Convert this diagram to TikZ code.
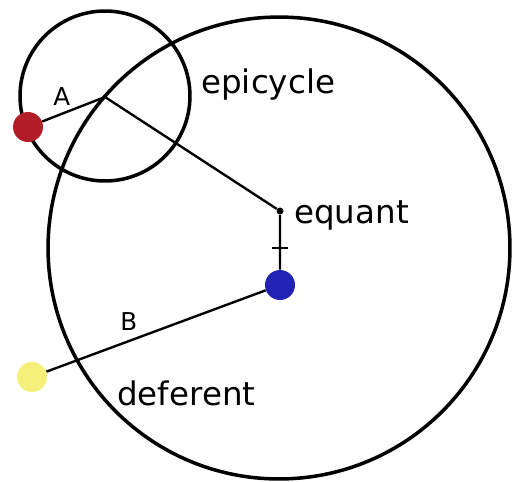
\documentclass[tikz,border=0pt]{standalone}
\usepackage{fontspec}
\setmainfont{DejaVu Sans}
\usetikzlibrary{positioning}
\definecolor{planetred}{HTML}{B21E28}
\definecolor{earthblue}{HTML}{2222B4}
\definecolor{sunyellow}{HTML}{F5F07A}

\begin{document}
\begin{tikzpicture}[x=0.02cm, y=-0.02cm,
    orbit/.style={line width=2pt},
    arm/.style={line width=1.35pt},
    body/.style={circle, inner sep=0pt, minimum size=0.6cm},
    bigtext/.style={anchor=base west, inner sep=0pt, font=\fontsize{18.5}{20}\selectfont},
    smalltext/.style={anchor=base west, inner sep=0pt, font=\fontsize{14}{16}\selectfont}]
    \useasboundingbox (0,0) rectangle (513,481);

    % deferent and epicycle
    \draw[orbit] (279,248) circle (4.62cm);
    \draw[orbit] (105,96) circle (1.7cm);

    % points
    \coordinate (epi) at (105,97);
    \coordinate (centre) at (280,248);
    \node[circle, fill=black, inner sep=0pt, minimum size=0.14cm] (equant) at (280,211) {};
    \node[body, fill=planetred] (planet) at (28,127) {};
    \node[body, fill=earthblue] (earth) at (280,285) {};
    \node[body, fill=sunyellow] (sun) at (32,377) {};

    % arms
    \draw[arm] (planet) -- (epi) -- (equant) -- (earth);
    \draw[arm] (earth) -- (sun);
    \draw[arm] ([xshift=-0.16cm]centre) -- ([xshift=0.16cm]centre);

    % labels
    \node[bigtext] (lepi) at (201,93) {epicycle};
    \node[bigtext] (lequ) at (294,223) {equant};
    \node[bigtext] (ldef) at (117,405) {deferent};
    \node[smalltext] (la) at (53,105) {A};
    \node[smalltext] (lb) at (120,330) {B};
\end{tikzpicture}
\end{document}
